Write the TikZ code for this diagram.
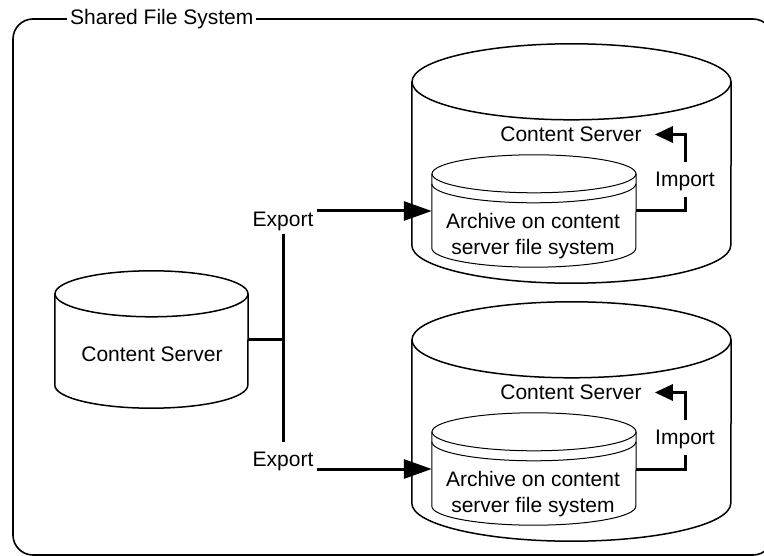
\documentclass[tikz,border=0pt]{standalone}
\usepackage{fontspec}
\setmainfont{Liberation Sans}
\usetikzlibrary{arrows.meta, positioning}

% a drum: sides, front bottom arc and top ellipse round a body node
\newcommand{\drawdrum}[4][]{%
  \draw[#1] (#2.north west) -- (#2.south west)
    arc[start angle=180, end angle=0, x radius=#3, y radius=#4] -- (#2.north east);
  \draw[#1] (#2.north) ellipse[x radius=#3, y radius=#4];}

\begin{document}
\begin{tikzpicture}[
      x=1pt, y=-1pt,
      every node/.style={font=\fontsize{21}{26}\selectfont},
      frame/.style={line width=1.6pt, rounded corners=20pt},
      drum/.style={line width=1.5pt},
      thindrum/.style={line width=1pt},
      body/.style={inner sep=0pt},
      txt/.style={align=center, inner sep=3pt},
      export/.style={-{Triangle[length=28pt, width=19pt]}, line width=3pt},
      import/.style={-{Triangle[length=18pt, width=16pt]}, line width=3pt},
      trunk/.style={line width=3pt}
    ]
    \useasboundingbox (0,0) rectangle (764,556);
    \draw[frame] (13,19) rectangle (773,555);
    \node[fill=white, inner xsep=3pt, anchor=west] (title) at (67,19) {Shared File System};

    % source server
    \node[body, minimum width=193pt, minimum height=91pt] (src) at (151.5,339.5) {};
    \drawdrum[drum]{src}{96.5}{23}
    \node[txt] (srctxt) at (152,354) {Content Server};

    % target servers
    \node[body, minimum width=319pt, minimum height=163pt] (cs1) at (571.5,163.5) {};
    \node[body, minimum width=319pt, minimum height=163pt] (cs2) at (571.5,421.5) {};
    \drawdrum[drum]{cs1}{159.5}{38}
    \drawdrum[drum]{cs2}{159.5}{38}
    \node[txt] (cs1txt) at (571,134.5) {Content Server};
    \node[txt] (cs2txt) at (571,392.5) {Content Server};

    % archives
    \node[body, minimum width=204pt, minimum height=74pt] (arc1) at (534,211) {};
    \node[body, minimum width=204pt, minimum height=74pt] (arc2) at (534,469) {};
    \drawdrum[thindrum]{arc1}{102}{19}
    \drawdrum[thindrum]{arc2}{102}{19}
    \draw[thindrum] ([yshift=-10pt]arc1.north west) arc[start angle=180, end angle=0, x radius=102, y radius=19];
    \draw[thindrum] ([yshift=-10pt]arc2.north west) arc[start angle=180, end angle=0, x radius=102, y radius=19];
    \node[txt] (arc1txt) at (533,236) {Archive on content\\server file system};
    \node[txt] (arc2txt) at (533,494) {Archive on content\\server file system};

    % export
    \node[txt] (exp1) at (283,221) {Export};
    \node[txt] (exp2) at (283,461.5) {Export};
    \draw[trunk] (exp1.south) -- ([yshift=7pt]exp2.north);
    \draw[trunk] (src.east) -- (src.east -| exp1.south);
    \draw[export] (exp1.east |- arc1.west) -- (arc1.west);
    \draw[export] (exp2.east |- arc2.west) -- (arc2.west);

    % import
    \node[txt, inner ysep=6pt] (imp1) at (685,181.5) {Import};
    \node[txt, inner ysep=6pt] (imp2) at (685,439.5) {Import};
    \draw[trunk] (arc1.east) -| (imp1.south);
    \draw[trunk] (arc2.east) -| (imp2.south);
    \draw[import, shorten >=10pt] ([yshift=4pt]imp1.north) |- (cs1txt.east);
    \draw[import, shorten >=10pt] ([yshift=4pt]imp2.north) |- (cs2txt.east);
\end{tikzpicture}
\end{document}
